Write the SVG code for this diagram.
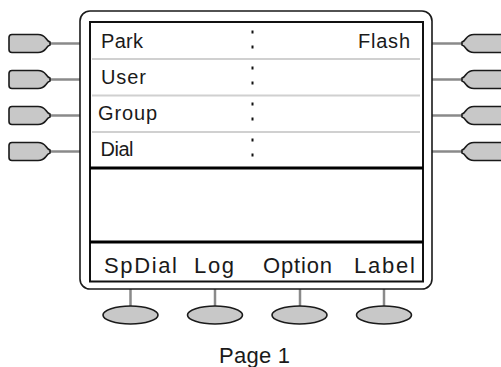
<svg xmlns="http://www.w3.org/2000/svg" width="501" height="367" viewBox="0 0 501 367">
<style>
.t{font-family:"Liberation Sans",Arial,sans-serif;fill:#1a1a1a}
.s{font-size:20px}
.b{font-size:22px}
.btn{fill:#c8c8c8;stroke:#1a1a1a;stroke-width:1.6}
.con{stroke:#8a8a8a;stroke-width:2.5;fill:none}
.sep{stroke:#d0d0d0;stroke-width:2}
.thick{stroke:#000;stroke-width:3}
.dot{fill:#111}
</style>
<defs>
<path id="lb" d="M12 -9 L38 -9 Q43 -9 46 -5 Q48 -2 50 -1.5 L50 1.5 Q48 2 46 5 Q43 9 38 9 L12 9 Q9 9 9 6 L9 -6 Q9 -9 12 -9 Z"/>
<path id="rb" d="M510 -9 L474 -9 Q469 -9 466 -5 Q464 -2 462 -1.5 L462 1.5 Q464 2 466 5 Q469 9 474 9 L510 9 Z"/>
</defs>
<g id="connectors">
<line class="con" x1="50" y1="43.5" x2="80" y2="43.5"/>
<line class="con" x1="50" y1="79.5" x2="80" y2="79.5"/>
<line class="con" x1="50" y1="115.5" x2="80" y2="115.5"/>
<line class="con" x1="50" y1="151.5" x2="80" y2="151.5"/>
<line class="con" x1="432" y1="43.5" x2="462" y2="43.5"/>
<line class="con" x1="432" y1="79.5" x2="462" y2="79.5"/>
<line class="con" x1="432" y1="115.5" x2="462" y2="115.5"/>
<line class="con" x1="432" y1="151.5" x2="462" y2="151.5"/>
<line class="con" x1="130.5" y1="289" x2="130.5" y2="306"/>
<line class="con" x1="215" y1="289" x2="215" y2="306"/>
<line class="con" x1="300" y1="289" x2="300" y2="306"/>
<line class="con" x1="384" y1="289" x2="384" y2="306"/>
</g>
<g id="phone">
<rect x="80" y="11" width="352" height="278" rx="10" ry="10" fill="#fff" stroke="#1a1a1a" stroke-width="1.6"/>
<rect x="90" y="22" width="333" height="259.5" fill="#fff" stroke="#111" stroke-width="2"/>
<line class="sep" x1="92" y1="59" x2="420" y2="59"/>
<line class="sep" x1="92" y1="95.5" x2="420" y2="95.5"/>
<line class="sep" x1="92" y1="132" x2="420" y2="132"/>
<line class="thick" x1="90" y1="168" x2="423" y2="168"/>
<line class="thick" x1="90" y1="242" x2="423" y2="242"/>
<rect class="dot" x="251.5" y="30.5" width="2" height="3"/>
<rect class="dot" x="251.5" y="45.5" width="2" height="3"/>
<rect class="dot" x="251.5" y="66.5" width="2" height="3"/>
<rect class="dot" x="251.5" y="81.5" width="2" height="3"/>
<rect class="dot" x="251.5" y="102.5" width="2" height="3"/>
<rect class="dot" x="251.5" y="117.5" width="2" height="3"/>
<rect class="dot" x="251.5" y="138.5" width="2" height="3"/>
<rect class="dot" x="251.5" y="153.5" width="2" height="3"/>
</g>
<g id="lbtn1"><use href="#lb" class="btn" transform="translate(0,43.5)"/></g>
<g id="lbtn2"><use href="#lb" class="btn" transform="translate(0,79.5)"/></g>
<g id="lbtn3"><use href="#lb" class="btn" transform="translate(0,115.5)"/></g>
<g id="lbtn4"><use href="#lb" class="btn" transform="translate(0,151.5)"/></g>
<g id="rbtn1"><use href="#rb" class="btn" transform="translate(0,43.5)"/></g>
<g id="rbtn2"><use href="#rb" class="btn" transform="translate(0,79.5)"/></g>
<g id="rbtn3"><use href="#rb" class="btn" transform="translate(0,115.5)"/></g>
<g id="rbtn4"><use href="#rb" class="btn" transform="translate(0,151.5)"/></g>
<g id="bbtn1"><ellipse class="btn" cx="130.5" cy="315" rx="27.5" ry="9"/></g>
<g id="bbtn2"><ellipse class="btn" cx="215" cy="315" rx="27.5" ry="9"/></g>
<g id="bbtn3"><ellipse class="btn" cx="299.5" cy="315" rx="27.5" ry="9"/></g>
<g id="bbtn4"><ellipse class="btn" cx="384" cy="315" rx="27.5" ry="9"/></g>
<g id="labels">
<text class="t s" x="101" y="48" textLength="42" lengthAdjust="spacing">Park</text>
<text class="t s" x="101" y="84" textLength="45" lengthAdjust="spacing">User</text>
<text class="t s" x="98" y="120" textLength="59" lengthAdjust="spacing">Group</text>
<text class="t s" x="100.5" y="156" textLength="33" lengthAdjust="spacing">Dial</text>
<text class="t s" x="358" y="48" textLength="52" lengthAdjust="spacing">Flash</text>
<text class="t b" x="104" y="273" textLength="73" lengthAdjust="spacing">SpDial</text>
<text class="t b" x="194" y="273" textLength="40" lengthAdjust="spacing">Log</text>
<text class="t b" x="263" y="273" textLength="69" lengthAdjust="spacing">Option</text>
<text class="t b" x="354" y="273" textLength="61" lengthAdjust="spacing">Label</text>
<text class="t b" x="219" y="363" textLength="71" lengthAdjust="spacing">Page 1</text>
</g>
</svg>
